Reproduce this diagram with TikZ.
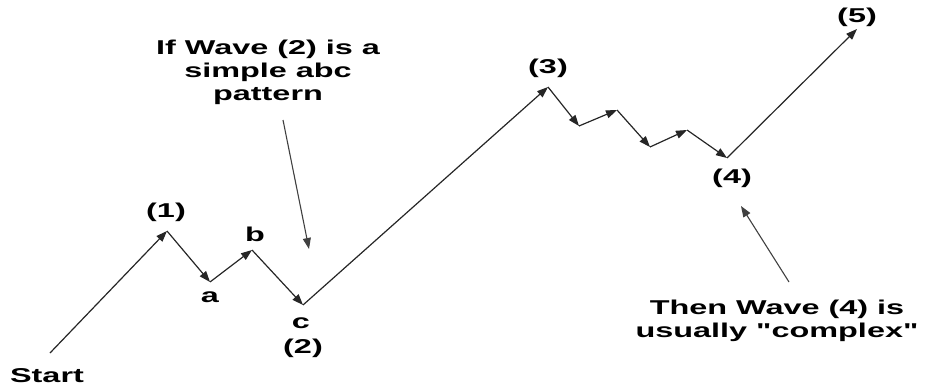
\documentclass[tikz,border=0pt]{standalone}
\usepackage{fontspec}
\setmainfont{Liberation Sans}
\usetikzlibrary{arrows.meta}
\newcommand{\straightq}{\XeTeXglyph\XeTeXcharglyph"22\relax}
\begin{document}
\begin{tikzpicture}[x=1pt,y=-1pt,
  wave/.style={draw=black!85, line width=1.2pt, -{Triangle[length=11pt,width=8pt]}},
  pointer/.style={draw=black!75, line width=1.1pt, -{Triangle[length=11pt,width=8pt]}},
  lbl/.style={font=\bfseries\fontsize{20}{23}\selectfont, xscale=1.62, inner sep=0pt, align=center, text=black}]
\useasboundingbox (0,0) rectangle (925,390);
% wave points
\coordinate (s)  at (50,353);
\coordinate (w1) at (167,231);
\coordinate (wa) at (210,282);
\coordinate (wb) at (252,250);
\coordinate (w2) at (303,305);
\coordinate (w3) at (548,87);
\coordinate (x1) at (579,126);
\coordinate (x2) at (617,110);
\coordinate (x3) at (650,147);
\coordinate (x4) at (687,130);
\coordinate (w4) at (727,158);
\coordinate (w5) at (857,29);
\draw[wave] (s) -- (w1);
\draw[wave] (w1) -- (wa);
\draw[wave] (wa) -- (wb);
\draw[wave] (wb) -- (w2);
\draw[wave] (w2) -- (w3);
\draw[wave] (w3) -- (x1);
\draw[wave] (x1) -- (x2);
\draw[wave] (x2) -- (x3);
\draw[wave] (x3) -- (x4);
\draw[wave] (x4) -- (w4);
\draw[wave] (w4) -- (w5);
% labels
\node[lbl] (l1) at (166,212) {(1)};
\node[lbl] (la) at (210,297) {a};
\node[lbl] (lb) at (255,234) {b};
\node[lbl] (lc) at (301,323) {c};
\node[lbl] (l2) at (303,348) {(2)};
\node[lbl] (lst) at (47,376) {Start};
\node[lbl] (l3) at (548,68) {(3)};
\node[lbl] (l4) at (732,178) {(4)};
\node[lbl] (l5) at (857,17) {(5)};
\node[lbl] (t1) at (268,72) {If Wave (2) is a\\simple abc\\pattern};
\node[lbl] (t2) at (777,321) {Then Wave (4) is\\usually \straightq complex\straightq};
% pointers
\coordinate (p1s) at (283,120);
\coordinate (p1e) at (309,249);
\coordinate (p2s) at (789,282);
\coordinate (p2e) at (741,206);
\draw[pointer] (p1s) -- (p1e);
\draw[pointer] (p2s) -- (p2e);
\end{tikzpicture}
\end{document}
